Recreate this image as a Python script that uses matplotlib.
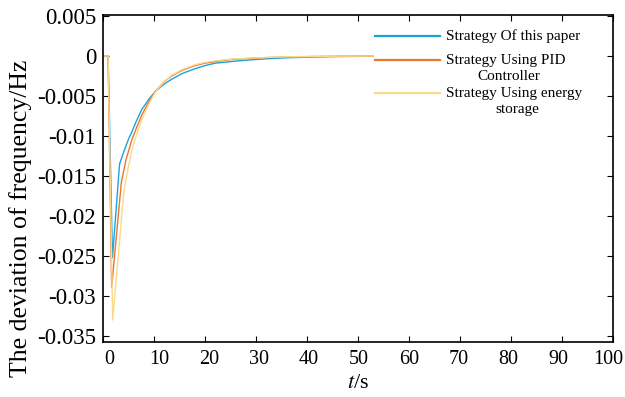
import matplotlib
matplotlib.use('Agg')
import matplotlib.pyplot as plt
import matplotlib.transforms as mtransforms
import numpy as np

plt.rcParams['font.family'] = ['Liberation Serif', 'DejaVu Serif']
plt.rcParams['mathtext.fontset'] = 'stix'

BLUE = '#1BA3DE'; ORG = '#E97731'; YEL = '#FCD98A'

# data
t_blue = [0, 1.0, 1.86, 3.25, 4, 5, 5.65, 6.5, 7.6, 9, 10.2, 12, 13.5, 15.5, 18, 20, 22, 25,
          28.5, 32, 36, 41.6, 47, 53]
y_blue = [0, 0, -0.0252, -0.0135, -0.0121, -0.0104, -0.0095, -0.0082, -0.0067, -0.0054, -0.0045,
          -0.0035, -0.0029, -0.0022, -0.0016, -0.0012, -0.0009, -0.0007, -0.0005, -0.00035,
          -0.00022, -0.00012, -0.00006, -0.00003]
t_org = [0, 1.0, 1.7, 3.6, 4.5, 5.65, 6.5, 7.6, 9, 10.2, 12, 13.5, 15.5, 18, 20, 22, 25, 28.5,
         32, 36, 41.6, 47, 53]
y_org = [0, 0, -0.0289, -0.0158, -0.0130, -0.0105, -0.0091, -0.0074, -0.0057, -0.0045, -0.0032,
         -0.0025, -0.0018, -0.0012, -0.0009, -0.0007, -0.00045, -0.0003, -0.0002, -0.00012,
         -0.00006, -0.00002, 0]
t_yel = [0, 1.0, 1.9, 4.1, 5, 5.65, 6.5, 7.6, 9, 10.2, 12, 13.5, 15.5, 18, 20, 22, 25, 28.5,
         32, 36, 41.6, 47, 53]
y_yel = [0, 0, -0.033, -0.0169, -0.0138, -0.0118, -0.0100, -0.0080, -0.0060, -0.0046, -0.0032,
         -0.0024, -0.0017, -0.0011, -0.0008, -0.0006, -0.0004, -0.00027, -0.00018, -0.0001,
         -0.00005, -0.00002, 0]

xticks = np.arange(0, 101, 10)
yticks = [0.005, 0, -0.005, -0.01, -0.015, -0.02, -0.025, -0.03, -0.035]
ytick_labels = ['0.005', '0', '-0.005', '-0.01', '-0.015', '-0.02', '-0.025', '-0.03', '-0.035']
labels = [('Strategy Of this paper', None), ('Strategy Using PID', 'Controller'),
          ('Strategy Using energy', 'storage')]
colors = [BLUE, ORG, YEL]

fig, ax = plt.subplots(figsize=(6.25, 3.97), dpi=100)
ax.plot(t_blue, y_blue, color=BLUE, lw=1.0)
ax.plot(t_org, y_org, color=ORG, lw=1.0)
ax.plot(t_yel, y_yel, color=YEL, lw=1.0)

ax.set_xlim(0, 100)
ax.set_ylim(-0.03575, 0.005125)
ax.set_xticks(xticks)
ax.set_yticks(yticks)
ax.set_yticklabels(ytick_labels)
ax.tick_params(direction='in', top=True, right=True, length=4)
ax.tick_params(axis='y', pad=5, labelsize=16.5)
ax.tick_params(axis='x', pad=6, labelsize=14.5)
for s in ax.spines.values():
    s.set_linewidth(1.2)
# x tick labels in the original sit slightly squeezed inwards
for lab, tv in zip(ax.get_xticklabels(), xticks):
    dx = (6.0 - 0.10 * tv) / 100.0
    lab.set_transform(lab.get_transform() + mtransforms.ScaledTranslation(dx, 0, fig.dpi_scale_trans))

ax.set_xlabel('$t$/s', fontsize=16, labelpad=3)
ax.set_ylabel('The deviation of frequency/Hz', fontsize=18.5)
ax.yaxis.set_label_coords(-0.139, 0.379)

# legend drawn by hand (handle aligned with first text line, as in the original)
fig.canvas.draw()
rend = fig.canvas.get_renderer()
leg_y = [0.936, 0.862, 0.761]
for (l1, l2), c, yy in zip(labels, colors, leg_y):
    ax.plot([0.534, 0.661], [yy, yy], color=c, lw=1.6, transform=ax.transAxes, clip_on=False)
    t1 = ax.text(0.673, yy, l1, transform=ax.transAxes, fontsize=11, ha='left', va='center')
    if l2:
        bb = t1.get_window_extent(rend).transformed(ax.transAxes.inverted())
        ax.text((bb.x0 + bb.x1) / 2, yy - 0.051, l2, transform=ax.transAxes, fontsize=11,
                ha='center', va='center')

plt.subplots_adjust(left=0.1648, right=0.980, top=0.9622, bottom=0.1385)
plt.savefig('out.png', dpi=100)
